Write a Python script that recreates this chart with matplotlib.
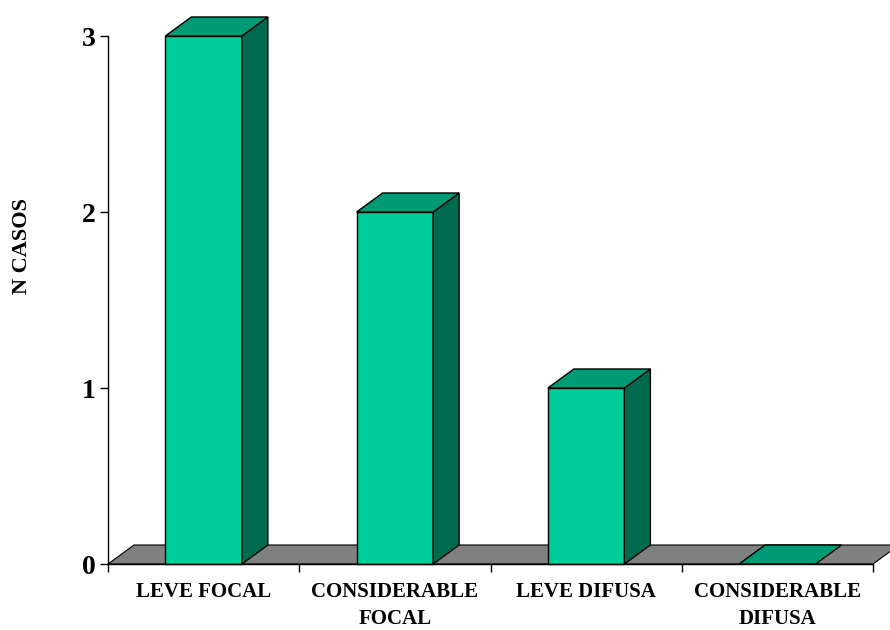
import matplotlib.pyplot as plt
from matplotlib.patches import Polygon

categories = ["LEVE FOCAL", "CONSIDERABLE\nFOCAL", "LEVE DIFUSA", "CONSIDERABLE\nDIFUSA"]
casos = [3, 2, 1, 0]

FRONT = "#00cc99"
TOP = "#009b74"
SIDE = "#006a4e"
FLOOR = "#808080"

# depth offset of the fake 3D box, in data units
DX, DY = 0.136, 0.108
BAR_W = 0.40

fig = plt.figure(figsize=(8.9, 6.3), dpi=100)
ax = fig.add_axes([108 / 890, 66 / 630, 765 / 890, 528 / 630])
ax.set_xlim(0, len(categories))
ax.set_ylim(0, 3)

# floor
floor = Polygon([(0, 0), (len(categories), 0), (len(categories) + DX, DY), (DX, DY)],
                closed=True, facecolor=FLOOR, edgecolor="black", lw=0.8,
                clip_on=False, zorder=1)
ax.add_patch(floor)

for i, v in enumerate(casos):
    x0 = i + 0.5 - BAR_W / 2
    x1 = x0 + BAR_W
    if v > 0:
        ax.add_patch(Polygon([(x0, 0), (x1, 0), (x1, v), (x0, v)], closed=True,
                             facecolor=FRONT, edgecolor="black", lw=1.0,
                             clip_on=False, zorder=3))
        ax.add_patch(Polygon([(x1, 0), (x1 + DX, DY), (x1 + DX, v + DY), (x1, v)],
                             closed=True, facecolor=SIDE, edgecolor="black",
                             lw=1.0, clip_on=False, zorder=3))
    ax.add_patch(Polygon([(x0, v), (x1, v), (x1 + DX, v + DY), (x0 + DX, v + DY)],
                         closed=True, facecolor=TOP, edgecolor="black", lw=1.0,
                         clip_on=False, zorder=3))

for s in ["top", "right"]:
    ax.spines[s].set_visible(False)
ax.spines["left"].set_zorder(4)
ax.spines["bottom"].set_zorder(4)
ax.spines["left"].set_linewidth(1.0)
ax.spines["bottom"].set_linewidth(1.0)

ax.set_yticks([0, 1, 2, 3])
ax.set_yticklabels(["0", "1", "2", "3"], fontfamily="Liberation Serif",
                   fontweight="bold", fontsize=20)
ax.tick_params(axis="y", length=6, width=1.0, pad=3)

ax.set_xticks(range(len(categories) + 1))
ax.set_xticklabels([])
ax.tick_params(axis="x", length=6, width=1.0)
ax.set_xticks([i + 0.5 for i in range(len(categories))], minor=True)
ax.set_xticklabels(categories, minor=True, fontfamily="Liberation Serif",
                   fontweight="bold", fontsize=15, linespacing=1.45)
ax.tick_params(axis="x", which="minor", length=0, pad=13)

fig.text(22 / 890, 1 - 246 / 630, "N CASOS", rotation=90, ha="center", va="center",
         fontfamily="Liberation Serif", fontweight="bold", fontsize=16)

fig.savefig("out.png", dpi=100)
